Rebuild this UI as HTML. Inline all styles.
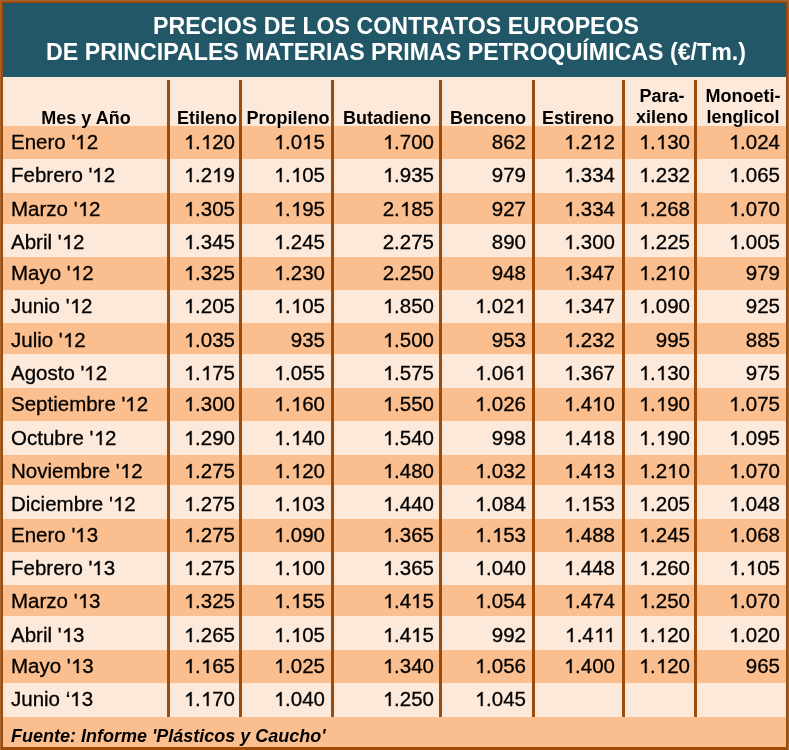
<!DOCTYPE html>
<html><head><meta charset="utf-8"><style>
html,body{margin:0;padding:0;}
body{width:789px;height:750px;position:relative;overflow:hidden;background:#fce9da;font-family:"Liberation Sans",sans-serif;color:#000;}
.a{position:absolute;}
.t{position:absolute;will-change:transform;-webkit-text-stroke:0.3px #000;white-space:nowrap;font-size:20.5px;line-height:30px;height:30px;}
.r{text-align:right;}
.o{width:.55615em;height:.688em;vertical-align:baseline;fill:#000;stroke:#000;stroke-width:30;overflow:visible;}
.k{margin-left:-.0742em;}
.h{position:absolute;will-change:transform;white-space:nowrap;font-weight:bold;font-size:18px;line-height:20px;text-align:center;}
</style></head><body>
<div class="a" style="left:0;top:0;width:789px;height:750px;background:#a8672f"></div>
<div class="a" style="left:1px;top:1px;width:787px;height:749px;background:#9c4b0a"></div>
<div class="a" style="left:3px;top:3px;width:783px;height:744px;background:#fce9da"></div>
<div class="a" style="left:3px;top:3px;width:783px;height:74px;background:#225767"></div>
<div class="a" style="will-change:transform;left:0;top:13.5px;width:792px;text-align:center;color:#fff;font-weight:bold;font-size:23.2px;line-height:25.8px;white-space:nowrap">PRECIOS DE LOS CONTRATOS EUROPEOS<br>DE PRINCIPALES MATERIAS PRIMAS PETROQUÍMICAS (€/Tm.)</div>

<div class="a" style="left:3px;top:126px;width:783px;height:33px;background:#fbbf8f"></div>
<div class="a" style="left:3px;top:193px;width:783px;height:31px;background:#fbbf8f"></div>
<div class="a" style="left:3px;top:257px;width:783px;height:33px;background:#fbbf8f"></div>
<div class="a" style="left:3px;top:323px;width:783px;height:31px;background:#fbbf8f"></div>
<div class="a" style="left:3px;top:388px;width:783px;height:33px;background:#fbbf8f"></div>
<div class="a" style="left:3px;top:455px;width:783px;height:30px;background:#fbbf8f"></div>
<div class="a" style="left:3px;top:519px;width:783px;height:33px;background:#fbbf8f"></div>
<div class="a" style="left:3px;top:585px;width:783px;height:31px;background:#fbbf8f"></div>
<div class="a" style="left:3px;top:650px;width:783px;height:33px;background:#fbbf8f"></div>
<div class="a" style="left:3px;top:717px;width:783px;height:30px;background:#fbbf8f"></div>
<div class="a" style="left:167px;top:80px;width:3px;height:637px;background:#9c4b0a"></div>
<div class="a" style="left:239px;top:80px;width:3px;height:637px;background:#9c4b0a"></div>
<div class="a" style="left:331px;top:80px;width:3px;height:637px;background:#9c4b0a"></div>
<div class="a" style="left:439px;top:80px;width:3px;height:637px;background:#9c4b0a"></div>
<div class="a" style="left:532px;top:80px;width:3px;height:637px;background:#9c4b0a"></div>
<div class="a" style="left:622px;top:80px;width:3px;height:637px;background:#9c4b0a"></div>
<div class="a" style="left:694px;top:80px;width:3px;height:637px;background:#9c4b0a"></div>
<div class="h" style="left:26.400000000000006px;top:107.5px;width:120px;line-height:20px">Mes y Año</div>
<div class="h" style="left:147px;top:107.5px;width:120px;line-height:20px">Etileno</div>
<div class="h" style="left:228px;top:107.5px;width:120px;line-height:20px">Propileno</div>
<div class="h" style="left:326.8px;top:107.5px;width:120px;line-height:20px">Butadieno</div>
<div class="h" style="left:428.4px;top:107.5px;width:120px;line-height:20px">Benceno</div>
<div class="h" style="left:518.4px;top:107.5px;width:120px;line-height:20px">Estireno</div>
<div class="h" style="left:601.8px;top:85.5px;width:120px;line-height:21px">Para-<br>xileno</div>
<div class="h" style="left:682.8px;top:85.5px;width:120px;line-height:21px">Monoeti-<br>lenglicol</div>
<div class="t" style="left:10.5px;top:126.7px">Enero '<svg class="o" viewBox="0 -1409 1139 1409"><path d="M583 0H763V-1409H648L224-1061V-894L583-1102Z"/></svg>2</div>
<div class="t r" style="left:135px;top:126.7px;width:100px"><svg class="o" viewBox="0 -1409 1139 1409"><path d="M583 0H763V-1409H648L224-1061V-894L583-1102Z"/></svg>.<svg class="o" viewBox="0 -1409 1139 1409"><path d="M583 0H763V-1409H648L224-1061V-894L583-1102Z"/></svg>20</div>
<div class="t r" style="left:225px;top:126.7px;width:100px"><svg class="o" viewBox="0 -1409 1139 1409"><path d="M583 0H763V-1409H648L224-1061V-894L583-1102Z"/></svg>.0<svg class="o" viewBox="0 -1409 1139 1409"><path d="M583 0H763V-1409H648L224-1061V-894L583-1102Z"/></svg>5</div>
<div class="t r" style="left:334px;top:126.7px;width:100px"><svg class="o" viewBox="0 -1409 1139 1409"><path d="M583 0H763V-1409H648L224-1061V-894L583-1102Z"/></svg>.700</div>
<div class="t r" style="left:426px;top:126.7px;width:100px">862</div>
<div class="t r" style="left:515px;top:126.7px;width:100px"><svg class="o" viewBox="0 -1409 1139 1409"><path d="M583 0H763V-1409H648L224-1061V-894L583-1102Z"/></svg>.2<svg class="o" viewBox="0 -1409 1139 1409"><path d="M583 0H763V-1409H648L224-1061V-894L583-1102Z"/></svg>2</div>
<div class="t r" style="left:590px;top:126.7px;width:100px"><svg class="o" viewBox="0 -1409 1139 1409"><path d="M583 0H763V-1409H648L224-1061V-894L583-1102Z"/></svg>.<svg class="o" viewBox="0 -1409 1139 1409"><path d="M583 0H763V-1409H648L224-1061V-894L583-1102Z"/></svg>30</div>
<div class="t r" style="left:680px;top:126.7px;width:100px"><svg class="o" viewBox="0 -1409 1139 1409"><path d="M583 0H763V-1409H648L224-1061V-894L583-1102Z"/></svg>.024</div>
<div class="t" style="left:10.5px;top:160.39999999999998px">Febrero '<svg class="o" viewBox="0 -1409 1139 1409"><path d="M583 0H763V-1409H648L224-1061V-894L583-1102Z"/></svg>2</div>
<div class="t r" style="left:135px;top:160.39999999999998px;width:100px"><svg class="o" viewBox="0 -1409 1139 1409"><path d="M583 0H763V-1409H648L224-1061V-894L583-1102Z"/></svg>.2<svg class="o" viewBox="0 -1409 1139 1409"><path d="M583 0H763V-1409H648L224-1061V-894L583-1102Z"/></svg>9</div>
<div class="t r" style="left:225px;top:160.39999999999998px;width:100px"><svg class="o" viewBox="0 -1409 1139 1409"><path d="M583 0H763V-1409H648L224-1061V-894L583-1102Z"/></svg>.<svg class="o" viewBox="0 -1409 1139 1409"><path d="M583 0H763V-1409H648L224-1061V-894L583-1102Z"/></svg>05</div>
<div class="t r" style="left:334px;top:160.39999999999998px;width:100px"><svg class="o" viewBox="0 -1409 1139 1409"><path d="M583 0H763V-1409H648L224-1061V-894L583-1102Z"/></svg>.935</div>
<div class="t r" style="left:426px;top:160.39999999999998px;width:100px">979</div>
<div class="t r" style="left:515px;top:160.39999999999998px;width:100px"><svg class="o" viewBox="0 -1409 1139 1409"><path d="M583 0H763V-1409H648L224-1061V-894L583-1102Z"/></svg>.334</div>
<div class="t r" style="left:590px;top:160.39999999999998px;width:100px"><svg class="o" viewBox="0 -1409 1139 1409"><path d="M583 0H763V-1409H648L224-1061V-894L583-1102Z"/></svg>.232</div>
<div class="t r" style="left:680px;top:160.39999999999998px;width:100px"><svg class="o" viewBox="0 -1409 1139 1409"><path d="M583 0H763V-1409H648L224-1061V-894L583-1102Z"/></svg>.065</div>
<div class="t" style="left:10.5px;top:193.79999999999998px">Marzo '<svg class="o" viewBox="0 -1409 1139 1409"><path d="M583 0H763V-1409H648L224-1061V-894L583-1102Z"/></svg>2</div>
<div class="t r" style="left:135px;top:193.79999999999998px;width:100px"><svg class="o" viewBox="0 -1409 1139 1409"><path d="M583 0H763V-1409H648L224-1061V-894L583-1102Z"/></svg>.305</div>
<div class="t r" style="left:225px;top:193.79999999999998px;width:100px"><svg class="o" viewBox="0 -1409 1139 1409"><path d="M583 0H763V-1409H648L224-1061V-894L583-1102Z"/></svg>.<svg class="o" viewBox="0 -1409 1139 1409"><path d="M583 0H763V-1409H648L224-1061V-894L583-1102Z"/></svg>95</div>
<div class="t r" style="left:334px;top:193.79999999999998px;width:100px">2.<svg class="o" viewBox="0 -1409 1139 1409"><path d="M583 0H763V-1409H648L224-1061V-894L583-1102Z"/></svg>85</div>
<div class="t r" style="left:426px;top:193.79999999999998px;width:100px">927</div>
<div class="t r" style="left:515px;top:193.79999999999998px;width:100px"><svg class="o" viewBox="0 -1409 1139 1409"><path d="M583 0H763V-1409H648L224-1061V-894L583-1102Z"/></svg>.334</div>
<div class="t r" style="left:590px;top:193.79999999999998px;width:100px"><svg class="o" viewBox="0 -1409 1139 1409"><path d="M583 0H763V-1409H648L224-1061V-894L583-1102Z"/></svg>.268</div>
<div class="t r" style="left:680px;top:193.79999999999998px;width:100px"><svg class="o" viewBox="0 -1409 1139 1409"><path d="M583 0H763V-1409H648L224-1061V-894L583-1102Z"/></svg>.070</div>
<div class="t" style="left:10.5px;top:226.7px">Abril '<svg class="o" viewBox="0 -1409 1139 1409"><path d="M583 0H763V-1409H648L224-1061V-894L583-1102Z"/></svg>2</div>
<div class="t r" style="left:135px;top:226.7px;width:100px"><svg class="o" viewBox="0 -1409 1139 1409"><path d="M583 0H763V-1409H648L224-1061V-894L583-1102Z"/></svg>.345</div>
<div class="t r" style="left:225px;top:226.7px;width:100px"><svg class="o" viewBox="0 -1409 1139 1409"><path d="M583 0H763V-1409H648L224-1061V-894L583-1102Z"/></svg>.245</div>
<div class="t r" style="left:334px;top:226.7px;width:100px">2.275</div>
<div class="t r" style="left:426px;top:226.7px;width:100px">890</div>
<div class="t r" style="left:515px;top:226.7px;width:100px"><svg class="o" viewBox="0 -1409 1139 1409"><path d="M583 0H763V-1409H648L224-1061V-894L583-1102Z"/></svg>.300</div>
<div class="t r" style="left:590px;top:226.7px;width:100px"><svg class="o" viewBox="0 -1409 1139 1409"><path d="M583 0H763V-1409H648L224-1061V-894L583-1102Z"/></svg>.225</div>
<div class="t r" style="left:680px;top:226.7px;width:100px"><svg class="o" viewBox="0 -1409 1139 1409"><path d="M583 0H763V-1409H648L224-1061V-894L583-1102Z"/></svg>.005</div>
<div class="t" style="left:10.5px;top:257.7px">Mayo '<svg class="o" viewBox="0 -1409 1139 1409"><path d="M583 0H763V-1409H648L224-1061V-894L583-1102Z"/></svg>2</div>
<div class="t r" style="left:135px;top:257.7px;width:100px"><svg class="o" viewBox="0 -1409 1139 1409"><path d="M583 0H763V-1409H648L224-1061V-894L583-1102Z"/></svg>.325</div>
<div class="t r" style="left:225px;top:257.7px;width:100px"><svg class="o" viewBox="0 -1409 1139 1409"><path d="M583 0H763V-1409H648L224-1061V-894L583-1102Z"/></svg>.230</div>
<div class="t r" style="left:334px;top:257.7px;width:100px">2.250</div>
<div class="t r" style="left:426px;top:257.7px;width:100px">948</div>
<div class="t r" style="left:515px;top:257.7px;width:100px"><svg class="o" viewBox="0 -1409 1139 1409"><path d="M583 0H763V-1409H648L224-1061V-894L583-1102Z"/></svg>.347</div>
<div class="t r" style="left:590px;top:257.7px;width:100px"><svg class="o" viewBox="0 -1409 1139 1409"><path d="M583 0H763V-1409H648L224-1061V-894L583-1102Z"/></svg>.2<svg class="o" viewBox="0 -1409 1139 1409"><path d="M583 0H763V-1409H648L224-1061V-894L583-1102Z"/></svg>0</div>
<div class="t r" style="left:680px;top:257.7px;width:100px">979</div>
<div class="t" style="left:10.5px;top:291.0px">Junio '<svg class="o" viewBox="0 -1409 1139 1409"><path d="M583 0H763V-1409H648L224-1061V-894L583-1102Z"/></svg>2</div>
<div class="t r" style="left:135px;top:291.0px;width:100px"><svg class="o" viewBox="0 -1409 1139 1409"><path d="M583 0H763V-1409H648L224-1061V-894L583-1102Z"/></svg>.205</div>
<div class="t r" style="left:225px;top:291.0px;width:100px"><svg class="o" viewBox="0 -1409 1139 1409"><path d="M583 0H763V-1409H648L224-1061V-894L583-1102Z"/></svg>.<svg class="o" viewBox="0 -1409 1139 1409"><path d="M583 0H763V-1409H648L224-1061V-894L583-1102Z"/></svg>05</div>
<div class="t r" style="left:334px;top:291.0px;width:100px"><svg class="o" viewBox="0 -1409 1139 1409"><path d="M583 0H763V-1409H648L224-1061V-894L583-1102Z"/></svg>.850</div>
<div class="t r" style="left:426px;top:291.0px;width:100px"><svg class="o" viewBox="0 -1409 1139 1409"><path d="M583 0H763V-1409H648L224-1061V-894L583-1102Z"/></svg>.02<svg class="o" viewBox="0 -1409 1139 1409"><path d="M583 0H763V-1409H648L224-1061V-894L583-1102Z"/></svg></div>
<div class="t r" style="left:515px;top:291.0px;width:100px"><svg class="o" viewBox="0 -1409 1139 1409"><path d="M583 0H763V-1409H648L224-1061V-894L583-1102Z"/></svg>.347</div>
<div class="t r" style="left:590px;top:291.0px;width:100px"><svg class="o" viewBox="0 -1409 1139 1409"><path d="M583 0H763V-1409H648L224-1061V-894L583-1102Z"/></svg>.090</div>
<div class="t r" style="left:680px;top:291.0px;width:100px">925</div>
<div class="t" style="left:10.5px;top:324.95px">Julio '<svg class="o" viewBox="0 -1409 1139 1409"><path d="M583 0H763V-1409H648L224-1061V-894L583-1102Z"/></svg>2</div>
<div class="t r" style="left:135px;top:324.95px;width:100px"><svg class="o" viewBox="0 -1409 1139 1409"><path d="M583 0H763V-1409H648L224-1061V-894L583-1102Z"/></svg>.035</div>
<div class="t r" style="left:225px;top:324.95px;width:100px">935</div>
<div class="t r" style="left:334px;top:324.95px;width:100px"><svg class="o" viewBox="0 -1409 1139 1409"><path d="M583 0H763V-1409H648L224-1061V-894L583-1102Z"/></svg>.500</div>
<div class="t r" style="left:426px;top:324.95px;width:100px">953</div>
<div class="t r" style="left:515px;top:324.95px;width:100px"><svg class="o" viewBox="0 -1409 1139 1409"><path d="M583 0H763V-1409H648L224-1061V-894L583-1102Z"/></svg>.232</div>
<div class="t r" style="left:590px;top:324.95px;width:100px">995</div>
<div class="t r" style="left:680px;top:324.95px;width:100px">885</div>
<div class="t" style="left:10.5px;top:358.05px">Agosto '<svg class="o" viewBox="0 -1409 1139 1409"><path d="M583 0H763V-1409H648L224-1061V-894L583-1102Z"/></svg>2</div>
<div class="t r" style="left:135px;top:358.05px;width:100px"><svg class="o" viewBox="0 -1409 1139 1409"><path d="M583 0H763V-1409H648L224-1061V-894L583-1102Z"/></svg>.<svg class="o" viewBox="0 -1409 1139 1409"><path d="M583 0H763V-1409H648L224-1061V-894L583-1102Z"/></svg>75</div>
<div class="t r" style="left:225px;top:358.05px;width:100px"><svg class="o" viewBox="0 -1409 1139 1409"><path d="M583 0H763V-1409H648L224-1061V-894L583-1102Z"/></svg>.055</div>
<div class="t r" style="left:334px;top:358.05px;width:100px"><svg class="o" viewBox="0 -1409 1139 1409"><path d="M583 0H763V-1409H648L224-1061V-894L583-1102Z"/></svg>.575</div>
<div class="t r" style="left:426px;top:358.05px;width:100px"><svg class="o" viewBox="0 -1409 1139 1409"><path d="M583 0H763V-1409H648L224-1061V-894L583-1102Z"/></svg>.06<svg class="o" viewBox="0 -1409 1139 1409"><path d="M583 0H763V-1409H648L224-1061V-894L583-1102Z"/></svg></div>
<div class="t r" style="left:515px;top:358.05px;width:100px"><svg class="o" viewBox="0 -1409 1139 1409"><path d="M583 0H763V-1409H648L224-1061V-894L583-1102Z"/></svg>.367</div>
<div class="t r" style="left:590px;top:358.05px;width:100px"><svg class="o" viewBox="0 -1409 1139 1409"><path d="M583 0H763V-1409H648L224-1061V-894L583-1102Z"/></svg>.<svg class="o" viewBox="0 -1409 1139 1409"><path d="M583 0H763V-1409H648L224-1061V-894L583-1102Z"/></svg>30</div>
<div class="t r" style="left:680px;top:358.05px;width:100px">975</div>
<div class="t" style="left:10.5px;top:389.45px">Septiembre '<svg class="o" viewBox="0 -1409 1139 1409"><path d="M583 0H763V-1409H648L224-1061V-894L583-1102Z"/></svg>2</div>
<div class="t r" style="left:135px;top:389.45px;width:100px"><svg class="o" viewBox="0 -1409 1139 1409"><path d="M583 0H763V-1409H648L224-1061V-894L583-1102Z"/></svg>.300</div>
<div class="t r" style="left:225px;top:389.45px;width:100px"><svg class="o" viewBox="0 -1409 1139 1409"><path d="M583 0H763V-1409H648L224-1061V-894L583-1102Z"/></svg>.<svg class="o" viewBox="0 -1409 1139 1409"><path d="M583 0H763V-1409H648L224-1061V-894L583-1102Z"/></svg>60</div>
<div class="t r" style="left:334px;top:389.45px;width:100px"><svg class="o" viewBox="0 -1409 1139 1409"><path d="M583 0H763V-1409H648L224-1061V-894L583-1102Z"/></svg>.550</div>
<div class="t r" style="left:426px;top:389.45px;width:100px"><svg class="o" viewBox="0 -1409 1139 1409"><path d="M583 0H763V-1409H648L224-1061V-894L583-1102Z"/></svg>.026</div>
<div class="t r" style="left:515px;top:389.45px;width:100px"><svg class="o" viewBox="0 -1409 1139 1409"><path d="M583 0H763V-1409H648L224-1061V-894L583-1102Z"/></svg>.4<svg class="o" viewBox="0 -1409 1139 1409"><path d="M583 0H763V-1409H648L224-1061V-894L583-1102Z"/></svg>0</div>
<div class="t r" style="left:590px;top:389.45px;width:100px"><svg class="o" viewBox="0 -1409 1139 1409"><path d="M583 0H763V-1409H648L224-1061V-894L583-1102Z"/></svg>.<svg class="o" viewBox="0 -1409 1139 1409"><path d="M583 0H763V-1409H648L224-1061V-894L583-1102Z"/></svg>90</div>
<div class="t r" style="left:680px;top:389.45px;width:100px"><svg class="o" viewBox="0 -1409 1139 1409"><path d="M583 0H763V-1409H648L224-1061V-894L583-1102Z"/></svg>.075</div>
<div class="t" style="left:10.5px;top:422.7px">Octubre '<svg class="o" viewBox="0 -1409 1139 1409"><path d="M583 0H763V-1409H648L224-1061V-894L583-1102Z"/></svg>2</div>
<div class="t r" style="left:135px;top:422.7px;width:100px"><svg class="o" viewBox="0 -1409 1139 1409"><path d="M583 0H763V-1409H648L224-1061V-894L583-1102Z"/></svg>.290</div>
<div class="t r" style="left:225px;top:422.7px;width:100px"><svg class="o" viewBox="0 -1409 1139 1409"><path d="M583 0H763V-1409H648L224-1061V-894L583-1102Z"/></svg>.<svg class="o" viewBox="0 -1409 1139 1409"><path d="M583 0H763V-1409H648L224-1061V-894L583-1102Z"/></svg>40</div>
<div class="t r" style="left:334px;top:422.7px;width:100px"><svg class="o" viewBox="0 -1409 1139 1409"><path d="M583 0H763V-1409H648L224-1061V-894L583-1102Z"/></svg>.540</div>
<div class="t r" style="left:426px;top:422.7px;width:100px">998</div>
<div class="t r" style="left:515px;top:422.7px;width:100px"><svg class="o" viewBox="0 -1409 1139 1409"><path d="M583 0H763V-1409H648L224-1061V-894L583-1102Z"/></svg>.4<svg class="o" viewBox="0 -1409 1139 1409"><path d="M583 0H763V-1409H648L224-1061V-894L583-1102Z"/></svg>8</div>
<div class="t r" style="left:590px;top:422.7px;width:100px"><svg class="o" viewBox="0 -1409 1139 1409"><path d="M583 0H763V-1409H648L224-1061V-894L583-1102Z"/></svg>.<svg class="o" viewBox="0 -1409 1139 1409"><path d="M583 0H763V-1409H648L224-1061V-894L583-1102Z"/></svg>90</div>
<div class="t r" style="left:680px;top:422.7px;width:100px"><svg class="o" viewBox="0 -1409 1139 1409"><path d="M583 0H763V-1409H648L224-1061V-894L583-1102Z"/></svg>.095</div>
<div class="t" style="left:10.5px;top:455.75px">Noviembre '<svg class="o" viewBox="0 -1409 1139 1409"><path d="M583 0H763V-1409H648L224-1061V-894L583-1102Z"/></svg>2</div>
<div class="t r" style="left:135px;top:455.75px;width:100px"><svg class="o" viewBox="0 -1409 1139 1409"><path d="M583 0H763V-1409H648L224-1061V-894L583-1102Z"/></svg>.275</div>
<div class="t r" style="left:225px;top:455.75px;width:100px"><svg class="o" viewBox="0 -1409 1139 1409"><path d="M583 0H763V-1409H648L224-1061V-894L583-1102Z"/></svg>.<svg class="o" viewBox="0 -1409 1139 1409"><path d="M583 0H763V-1409H648L224-1061V-894L583-1102Z"/></svg>20</div>
<div class="t r" style="left:334px;top:455.75px;width:100px"><svg class="o" viewBox="0 -1409 1139 1409"><path d="M583 0H763V-1409H648L224-1061V-894L583-1102Z"/></svg>.480</div>
<div class="t r" style="left:426px;top:455.75px;width:100px"><svg class="o" viewBox="0 -1409 1139 1409"><path d="M583 0H763V-1409H648L224-1061V-894L583-1102Z"/></svg>.032</div>
<div class="t r" style="left:515px;top:455.75px;width:100px"><svg class="o" viewBox="0 -1409 1139 1409"><path d="M583 0H763V-1409H648L224-1061V-894L583-1102Z"/></svg>.4<svg class="o" viewBox="0 -1409 1139 1409"><path d="M583 0H763V-1409H648L224-1061V-894L583-1102Z"/></svg>3</div>
<div class="t r" style="left:590px;top:455.75px;width:100px"><svg class="o" viewBox="0 -1409 1139 1409"><path d="M583 0H763V-1409H648L224-1061V-894L583-1102Z"/></svg>.2<svg class="o" viewBox="0 -1409 1139 1409"><path d="M583 0H763V-1409H648L224-1061V-894L583-1102Z"/></svg>0</div>
<div class="t r" style="left:680px;top:455.75px;width:100px"><svg class="o" viewBox="0 -1409 1139 1409"><path d="M583 0H763V-1409H648L224-1061V-894L583-1102Z"/></svg>.070</div>
<div class="t" style="left:10.5px;top:489.05px">Diciembre '<svg class="o" viewBox="0 -1409 1139 1409"><path d="M583 0H763V-1409H648L224-1061V-894L583-1102Z"/></svg>2</div>
<div class="t r" style="left:135px;top:489.05px;width:100px"><svg class="o" viewBox="0 -1409 1139 1409"><path d="M583 0H763V-1409H648L224-1061V-894L583-1102Z"/></svg>.275</div>
<div class="t r" style="left:225px;top:489.05px;width:100px"><svg class="o" viewBox="0 -1409 1139 1409"><path d="M583 0H763V-1409H648L224-1061V-894L583-1102Z"/></svg>.<svg class="o" viewBox="0 -1409 1139 1409"><path d="M583 0H763V-1409H648L224-1061V-894L583-1102Z"/></svg>03</div>
<div class="t r" style="left:334px;top:489.05px;width:100px"><svg class="o" viewBox="0 -1409 1139 1409"><path d="M583 0H763V-1409H648L224-1061V-894L583-1102Z"/></svg>.440</div>
<div class="t r" style="left:426px;top:489.05px;width:100px"><svg class="o" viewBox="0 -1409 1139 1409"><path d="M583 0H763V-1409H648L224-1061V-894L583-1102Z"/></svg>.084</div>
<div class="t r" style="left:515px;top:489.05px;width:100px"><svg class="o" viewBox="0 -1409 1139 1409"><path d="M583 0H763V-1409H648L224-1061V-894L583-1102Z"/></svg>.<svg class="o" viewBox="0 -1409 1139 1409"><path d="M583 0H763V-1409H648L224-1061V-894L583-1102Z"/></svg>53</div>
<div class="t r" style="left:590px;top:489.05px;width:100px"><svg class="o" viewBox="0 -1409 1139 1409"><path d="M583 0H763V-1409H648L224-1061V-894L583-1102Z"/></svg>.205</div>
<div class="t r" style="left:680px;top:489.05px;width:100px"><svg class="o" viewBox="0 -1409 1139 1409"><path d="M583 0H763V-1409H648L224-1061V-894L583-1102Z"/></svg>.048</div>
<div class="t" style="left:10.5px;top:519.5px">Enero '<svg class="o" viewBox="0 -1409 1139 1409"><path d="M583 0H763V-1409H648L224-1061V-894L583-1102Z"/></svg>3</div>
<div class="t r" style="left:135px;top:519.5px;width:100px"><svg class="o" viewBox="0 -1409 1139 1409"><path d="M583 0H763V-1409H648L224-1061V-894L583-1102Z"/></svg>.275</div>
<div class="t r" style="left:225px;top:519.5px;width:100px"><svg class="o" viewBox="0 -1409 1139 1409"><path d="M583 0H763V-1409H648L224-1061V-894L583-1102Z"/></svg>.090</div>
<div class="t r" style="left:334px;top:519.5px;width:100px"><svg class="o" viewBox="0 -1409 1139 1409"><path d="M583 0H763V-1409H648L224-1061V-894L583-1102Z"/></svg>.365</div>
<div class="t r" style="left:426px;top:519.5px;width:100px"><svg class="o" viewBox="0 -1409 1139 1409"><path d="M583 0H763V-1409H648L224-1061V-894L583-1102Z"/></svg>.<svg class="o" viewBox="0 -1409 1139 1409"><path d="M583 0H763V-1409H648L224-1061V-894L583-1102Z"/></svg>53</div>
<div class="t r" style="left:515px;top:519.5px;width:100px"><svg class="o" viewBox="0 -1409 1139 1409"><path d="M583 0H763V-1409H648L224-1061V-894L583-1102Z"/></svg>.488</div>
<div class="t r" style="left:590px;top:519.5px;width:100px"><svg class="o" viewBox="0 -1409 1139 1409"><path d="M583 0H763V-1409H648L224-1061V-894L583-1102Z"/></svg>.245</div>
<div class="t r" style="left:680px;top:519.5px;width:100px"><svg class="o" viewBox="0 -1409 1139 1409"><path d="M583 0H763V-1409H648L224-1061V-894L583-1102Z"/></svg>.068</div>
<div class="t" style="left:10.5px;top:552.85px">Febrero '<svg class="o" viewBox="0 -1409 1139 1409"><path d="M583 0H763V-1409H648L224-1061V-894L583-1102Z"/></svg>3</div>
<div class="t r" style="left:135px;top:552.85px;width:100px"><svg class="o" viewBox="0 -1409 1139 1409"><path d="M583 0H763V-1409H648L224-1061V-894L583-1102Z"/></svg>.275</div>
<div class="t r" style="left:225px;top:552.85px;width:100px"><svg class="o" viewBox="0 -1409 1139 1409"><path d="M583 0H763V-1409H648L224-1061V-894L583-1102Z"/></svg>.<svg class="o" viewBox="0 -1409 1139 1409"><path d="M583 0H763V-1409H648L224-1061V-894L583-1102Z"/></svg>00</div>
<div class="t r" style="left:334px;top:552.85px;width:100px"><svg class="o" viewBox="0 -1409 1139 1409"><path d="M583 0H763V-1409H648L224-1061V-894L583-1102Z"/></svg>.365</div>
<div class="t r" style="left:426px;top:552.85px;width:100px"><svg class="o" viewBox="0 -1409 1139 1409"><path d="M583 0H763V-1409H648L224-1061V-894L583-1102Z"/></svg>.040</div>
<div class="t r" style="left:515px;top:552.85px;width:100px"><svg class="o" viewBox="0 -1409 1139 1409"><path d="M583 0H763V-1409H648L224-1061V-894L583-1102Z"/></svg>.448</div>
<div class="t r" style="left:590px;top:552.85px;width:100px"><svg class="o" viewBox="0 -1409 1139 1409"><path d="M583 0H763V-1409H648L224-1061V-894L583-1102Z"/></svg>.260</div>
<div class="t r" style="left:680px;top:552.85px;width:100px"><svg class="o" viewBox="0 -1409 1139 1409"><path d="M583 0H763V-1409H648L224-1061V-894L583-1102Z"/></svg>.<svg class="o" viewBox="0 -1409 1139 1409"><path d="M583 0H763V-1409H648L224-1061V-894L583-1102Z"/></svg>05</div>
<div class="t" style="left:10.5px;top:586.0px">Marzo '<svg class="o" viewBox="0 -1409 1139 1409"><path d="M583 0H763V-1409H648L224-1061V-894L583-1102Z"/></svg>3</div>
<div class="t r" style="left:135px;top:586.0px;width:100px"><svg class="o" viewBox="0 -1409 1139 1409"><path d="M583 0H763V-1409H648L224-1061V-894L583-1102Z"/></svg>.325</div>
<div class="t r" style="left:225px;top:586.0px;width:100px"><svg class="o" viewBox="0 -1409 1139 1409"><path d="M583 0H763V-1409H648L224-1061V-894L583-1102Z"/></svg>.<svg class="o" viewBox="0 -1409 1139 1409"><path d="M583 0H763V-1409H648L224-1061V-894L583-1102Z"/></svg>55</div>
<div class="t r" style="left:334px;top:586.0px;width:100px"><svg class="o" viewBox="0 -1409 1139 1409"><path d="M583 0H763V-1409H648L224-1061V-894L583-1102Z"/></svg>.4<svg class="o" viewBox="0 -1409 1139 1409"><path d="M583 0H763V-1409H648L224-1061V-894L583-1102Z"/></svg>5</div>
<div class="t r" style="left:426px;top:586.0px;width:100px"><svg class="o" viewBox="0 -1409 1139 1409"><path d="M583 0H763V-1409H648L224-1061V-894L583-1102Z"/></svg>.054</div>
<div class="t r" style="left:515px;top:586.0px;width:100px"><svg class="o" viewBox="0 -1409 1139 1409"><path d="M583 0H763V-1409H648L224-1061V-894L583-1102Z"/></svg>.474</div>
<div class="t r" style="left:590px;top:586.0px;width:100px"><svg class="o" viewBox="0 -1409 1139 1409"><path d="M583 0H763V-1409H648L224-1061V-894L583-1102Z"/></svg>.250</div>
<div class="t r" style="left:680px;top:586.0px;width:100px"><svg class="o" viewBox="0 -1409 1139 1409"><path d="M583 0H763V-1409H648L224-1061V-894L583-1102Z"/></svg>.070</div>
<div class="t" style="left:10.5px;top:620.2px">Abril '<svg class="o" viewBox="0 -1409 1139 1409"><path d="M583 0H763V-1409H648L224-1061V-894L583-1102Z"/></svg>3</div>
<div class="t r" style="left:135px;top:620.2px;width:100px"><svg class="o" viewBox="0 -1409 1139 1409"><path d="M583 0H763V-1409H648L224-1061V-894L583-1102Z"/></svg>.265</div>
<div class="t r" style="left:225px;top:620.2px;width:100px"><svg class="o" viewBox="0 -1409 1139 1409"><path d="M583 0H763V-1409H648L224-1061V-894L583-1102Z"/></svg>.<svg class="o" viewBox="0 -1409 1139 1409"><path d="M583 0H763V-1409H648L224-1061V-894L583-1102Z"/></svg>05</div>
<div class="t r" style="left:334px;top:620.2px;width:100px"><svg class="o" viewBox="0 -1409 1139 1409"><path d="M583 0H763V-1409H648L224-1061V-894L583-1102Z"/></svg>.4<svg class="o" viewBox="0 -1409 1139 1409"><path d="M583 0H763V-1409H648L224-1061V-894L583-1102Z"/></svg>5</div>
<div class="t r" style="left:426px;top:620.2px;width:100px">992</div>
<div class="t r" style="left:515px;top:620.2px;width:100px"><svg class="o" viewBox="0 -1409 1139 1409"><path d="M583 0H763V-1409H648L224-1061V-894L583-1102Z"/></svg>.4<svg class="o" viewBox="0 -1409 1139 1409"><path d="M583 0H763V-1409H648L224-1061V-894L583-1102Z"/></svg><svg class="o k" viewBox="0 -1409 1139 1409"><path d="M583 0H763V-1409H648L224-1061V-894L583-1102Z"/></svg></div>
<div class="t r" style="left:590px;top:620.2px;width:100px"><svg class="o" viewBox="0 -1409 1139 1409"><path d="M583 0H763V-1409H648L224-1061V-894L583-1102Z"/></svg>.<svg class="o" viewBox="0 -1409 1139 1409"><path d="M583 0H763V-1409H648L224-1061V-894L583-1102Z"/></svg>20</div>
<div class="t r" style="left:680px;top:620.2px;width:100px"><svg class="o" viewBox="0 -1409 1139 1409"><path d="M583 0H763V-1409H648L224-1061V-894L583-1102Z"/></svg>.020</div>
<div class="t" style="left:10.5px;top:650.9000000000001px">Mayo '<svg class="o" viewBox="0 -1409 1139 1409"><path d="M583 0H763V-1409H648L224-1061V-894L583-1102Z"/></svg>3</div>
<div class="t r" style="left:135px;top:650.9000000000001px;width:100px"><svg class="o" viewBox="0 -1409 1139 1409"><path d="M583 0H763V-1409H648L224-1061V-894L583-1102Z"/></svg>.<svg class="o" viewBox="0 -1409 1139 1409"><path d="M583 0H763V-1409H648L224-1061V-894L583-1102Z"/></svg>65</div>
<div class="t r" style="left:225px;top:650.9000000000001px;width:100px"><svg class="o" viewBox="0 -1409 1139 1409"><path d="M583 0H763V-1409H648L224-1061V-894L583-1102Z"/></svg>.025</div>
<div class="t r" style="left:334px;top:650.9000000000001px;width:100px"><svg class="o" viewBox="0 -1409 1139 1409"><path d="M583 0H763V-1409H648L224-1061V-894L583-1102Z"/></svg>.340</div>
<div class="t r" style="left:426px;top:650.9000000000001px;width:100px"><svg class="o" viewBox="0 -1409 1139 1409"><path d="M583 0H763V-1409H648L224-1061V-894L583-1102Z"/></svg>.056</div>
<div class="t r" style="left:515px;top:650.9000000000001px;width:100px"><svg class="o" viewBox="0 -1409 1139 1409"><path d="M583 0H763V-1409H648L224-1061V-894L583-1102Z"/></svg>.400</div>
<div class="t r" style="left:590px;top:650.9000000000001px;width:100px"><svg class="o" viewBox="0 -1409 1139 1409"><path d="M583 0H763V-1409H648L224-1061V-894L583-1102Z"/></svg>.<svg class="o" viewBox="0 -1409 1139 1409"><path d="M583 0H763V-1409H648L224-1061V-894L583-1102Z"/></svg>20</div>
<div class="t r" style="left:680px;top:650.9000000000001px;width:100px">965</div>
<div class="t" style="left:10.5px;top:684.2px">Junio ‘<svg class="o" viewBox="0 -1409 1139 1409"><path d="M583 0H763V-1409H648L224-1061V-894L583-1102Z"/></svg>3</div>
<div class="t r" style="left:135px;top:684.2px;width:100px"><svg class="o" viewBox="0 -1409 1139 1409"><path d="M583 0H763V-1409H648L224-1061V-894L583-1102Z"/></svg>.<svg class="o" viewBox="0 -1409 1139 1409"><path d="M583 0H763V-1409H648L224-1061V-894L583-1102Z"/></svg>70</div>
<div class="t r" style="left:225px;top:684.2px;width:100px"><svg class="o" viewBox="0 -1409 1139 1409"><path d="M583 0H763V-1409H648L224-1061V-894L583-1102Z"/></svg>.040</div>
<div class="t r" style="left:334px;top:684.2px;width:100px"><svg class="o" viewBox="0 -1409 1139 1409"><path d="M583 0H763V-1409H648L224-1061V-894L583-1102Z"/></svg>.250</div>
<div class="t r" style="left:426px;top:684.2px;width:100px"><svg class="o" viewBox="0 -1409 1139 1409"><path d="M583 0H763V-1409H648L224-1061V-894L583-1102Z"/></svg>.045</div>
<div class="a" style="will-change:transform;left:11px;top:721px;font-weight:bold;font-style:italic;font-size:18px;line-height:31px;white-space:nowrap">Fuente: Informe 'Plásticos y Caucho'</div>
</body></html>
